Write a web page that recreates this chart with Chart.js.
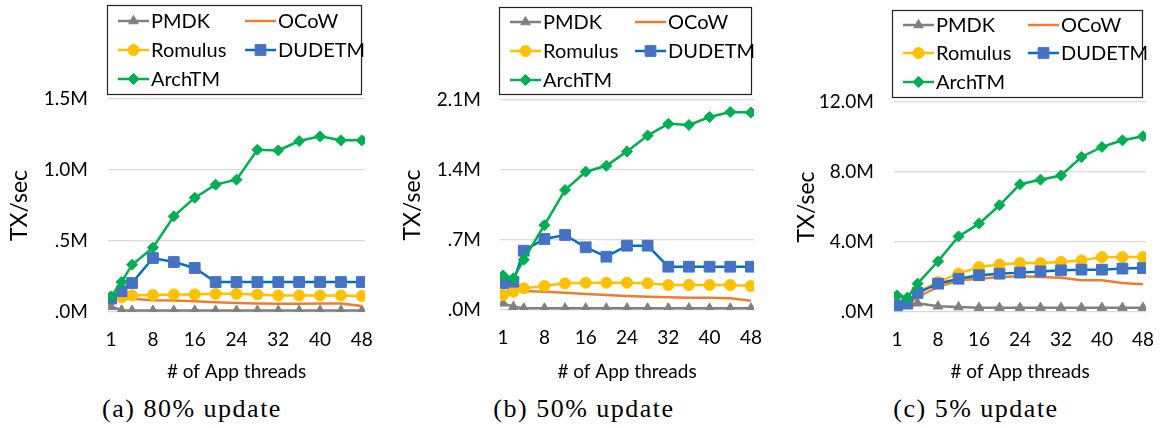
<!DOCTYPE html>
<html><head><meta charset="utf-8">
<script src="https://cdn.jsdelivr.net/npm/chart.js@4.4.1/dist/chart.umd.min.js"></script>
<style>
html,body{margin:0;padding:0;background:#fff;width:1160px;height:428px;overflow:hidden}
.panel{position:absolute;top:0;height:390px;width:380px}
.cap{position:absolute;top:394px;font-family:"Liberation Serif","DejaVu Serif",serif;font-size:26px;letter-spacing:1.5px;color:#000;white-space:nowrap;transform:translateX(-50%);line-height:30px}
</style></head><body>
<div class="panel" style="left:0"><canvas id="ca"></canvas></div>
<div class="panel" style="left:390px"><canvas id="cb"></canvas></div>
<div class="panel" style="left:780px"><canvas id="cc"></canvas></div>
<div class="cap" style="left:192px">(a) 80% update</div>
<div class="cap" style="left:584px">(b) 50% update</div>
<div class="cap" style="left:976px">(c) 5% update</div>
<script>
// x positions of thread counts as drawn (first point sits on the "1" tick)
const threadX = [0, 2, 4, 8, 12, 16, 20, 24, 28, 32, 36, 40, 44, 48];
const xTickValues = [0, 8, 16, 24, 32, 40, 48];
const xTickLabels = ['1', '8', '16', '24', '32', '40', '48'];
const seriesNames = ['PMDK', 'OCoW', 'Romulus', 'DUDETM', 'ArchTM'];

// (a) 80% update, millions TX/sec
const a_PMDK    = [0.037, 0.012, 0.010, 0.010, 0.010, 0.010, 0.010, 0.010, 0.010, 0.010, 0.010, 0.010, 0.010, 0.010];
const a_OCoW    = [0.090, 0.095, 0.094, 0.082, 0.081, 0.075, 0.068, 0.063, 0.059, 0.058, 0.058, 0.059, 0.059, 0.043];
const a_Romulus = [0.100, 0.103, 0.117, 0.120, 0.124, 0.124, 0.128, 0.128, 0.124, 0.117, 0.117, 0.117, 0.117, 0.113];
const a_DUDETM  = [0.094, 0.146, 0.204, 0.380, 0.352, 0.310, 0.211, 0.211, 0.211, 0.211, 0.211, 0.211, 0.211, 0.211];
const a_ArchTM  = [0.110, 0.211, 0.333, 0.453, 0.674, 0.805, 0.897, 0.932, 1.143, 1.138, 1.204, 1.237, 1.209, 1.209];
const a_yTicks = [0, 0.5, 1.0, 1.5];
const a_yLabels = ['.0M', '.5M', '1.0M', '1.5M'];

// (b) 50% update
const b_PMDK    = [0.067, 0.033, 0.017, 0.017, 0.017, 0.017, 0.017, 0.017, 0.017, 0.017, 0.017, 0.017, 0.017, 0.017];
const b_OCoW    = [0.180, 0.200, 0.190, 0.183, 0.173, 0.160, 0.150, 0.140, 0.133, 0.127, 0.123, 0.123, 0.117, 0.093];
const b_Romulus = [0.150, 0.183, 0.217, 0.240, 0.267, 0.273, 0.273, 0.273, 0.267, 0.250, 0.250, 0.250, 0.250, 0.240];
const b_DUDETM  = [0.267, 0.283, 0.593, 0.710, 0.750, 0.627, 0.533, 0.643, 0.643, 0.433, 0.433, 0.433, 0.433, 0.433];
const b_ArchTM  = [0.345, 0.317, 0.503, 0.848, 1.200, 1.383, 1.442, 1.586, 1.745, 1.862, 1.850, 1.930, 1.980, 1.975];
const b_yTicks = [0, 0.7, 1.4, 2.1];
const b_yLabels = ['.0M', '.7M', '1.4M', '2.1M'];

// (c) 5% update
const c_PMDK    = [0.30, 0.45, 0.50, 0.33, 0.28, 0.25, 0.25, 0.25, 0.25, 0.25, 0.25, 0.25, 0.25, 0.25];
const c_OCoW    = [0.30, 0.40, 0.86, 1.43, 1.81, 1.90, 2.00, 2.04, 2.00, 1.96, 1.81, 1.81, 1.66, 1.58];
const c_Romulus = [0.40, 0.57, 1.14, 1.71, 2.19, 2.57, 2.72, 2.80, 2.80, 2.86, 2.95, 3.14, 3.14, 3.14];
const c_DUDETM  = [0.38, 0.48, 1.09, 1.62, 1.90, 2.10, 2.19, 2.25, 2.32, 2.38, 2.42, 2.42, 2.48, 2.51];
const c_ArchTM  = [0.95, 0.82, 1.62, 2.90, 4.32, 5.05, 6.10, 7.30, 7.56, 7.80, 8.86, 9.43, 9.81, 10.04];
const c_yTicks = [0, 4, 8, 12];
const c_yLabels = ['.0M', '4.0M', '8.0M', '12.0M'];

const UI_FONT = 'Lato, "Open Sans", sans-serif';

const styles = [
  {color: '#808080', point: 'triangle', radius: 5.5, order: 5},
  {color: '#ED7D31', point: false, radius: 0, order: 4},
  {color: '#FFC000', point: 'circle', radius: 5.5, order: 3},
  {color: '#0070C0', fill: '#4472C4', point: 'rect', radius: 7.6, order: 2},
  {color: '#00B050', point: 'rectRot', radius: 5.5, order: 1}
];

function markerPath(ctx, style, x, y, r) {
  ctx.beginPath();
  if (style === 'circle') { ctx.arc(x, y, r, 0, Math.PI * 2); }
  else if (style === 'rect') { const s = Math.SQRT1_2 * r; ctx.rect(x - s, y - s, 2 * s, 2 * s); }
  else if (style === 'rectRot') { ctx.moveTo(x - r, y); ctx.lineTo(x, y - r); ctx.lineTo(x + r, y); ctx.lineTo(x, y + r); ctx.closePath(); }
  else if (style === 'triangle') {
    const w = r * Math.sqrt(3) / 2;
    ctx.moveTo(x - w, y + r / 2); ctx.lineTo(x, y - r); ctx.lineTo(x + w, y + r / 2); ctx.closePath();
  }
}

const boxLegend = {
  id: 'boxLegend',
  afterDraw(chart, args, o) {
    const ctx = chart.ctx;
    ctx.save();
    ctx.strokeStyle = '#222';
    ctx.lineWidth = 1.2;
    ctx.strokeRect(o.x + 0.5, o.y + 0.5, o.w, o.h);
    ctx.font = '20px ' + UI_FONT;
    ctx.textBaseline = 'middle';
    ctx.fillStyle = '#000';
    chart.data.datasets.forEach((d, i) => {
      const col = i % 2, row = Math.floor(i / 2);
      const lx = o.x + (col ? o.col2 : o.col1);
      const ly = o.y + o.rows[row];
      ctx.strokeStyle = d.borderColor;
      ctx.lineWidth = d.borderWidth;
      ctx.beginPath(); ctx.moveTo(lx, ly); ctx.lineTo(lx + 31, ly); ctx.stroke();
      if (d.pointStyle && d.pointRadius > 0) {
        markerPath(ctx, d.pointStyle, lx + 15.5, ly, d.pointRadius);
        ctx.fillStyle = d.pointBackgroundColor;
        ctx.fill();
        ctx.lineWidth = 1; ctx.strokeStyle = d.pointBorderColor; ctx.stroke();
      }
      ctx.fillStyle = '#000';
      ctx.fillText(d.label, lx + 33, ly + 1);
    });
    ctx.restore();
  }
};

function makeChart(id, series, yTicks, yLabels, g) {
  const datasets = series.map((vals, i) => {
    const s = styles[i];
    return {
      label: seriesNames[i],
      data: vals.map((v, k) => ({x: threadX[k], y: v})),
      borderColor: s.color,
      backgroundColor: s.fill || s.color,
      borderWidth: 2.5,
      pointStyle: s.point,
      pointRadius: s.radius,
      pointHoverRadius: s.radius,
      pointBackgroundColor: s.fill || s.color,
      pointBorderColor: s.fill || s.color,
      pointBorderWidth: 1,
      order: s.order,
      tension: 0
    };
  });
  return new Chart(document.getElementById(id), {
    type: 'line',
    data: {datasets},
    plugins: [boxLegend],
    options: {
      responsive: true,
      maintainAspectRatio: false,
      animation: false,
      events: [],
      layout: {padding: {left: 0, right: g.padR, top: g.top, bottom: 0}},
      plugins: {
        legend: {display: false},
        tooltip: {enabled: false},
        boxLegend: g.legend
      },
      scales: {
        x: {
          type: 'linear',
          min: -0.6, max: 48.6,
          grid: {display: false, drawTicks: false},
          border: {display: false},
          afterBuildTicks: sc => { sc.ticks = xTickValues.map(v => ({value: v})); },
          afterFit: sc => { sc.height = g.bottomH; sc.paddingLeft = 0; sc.paddingRight = 0; },
          ticks: {
            autoSkip: false, maxRotation: 0, padding: 16,
            color: '#000', font: {family: UI_FONT, size: 19},
            callback: (v, i) => xTickLabels[i]
          },
          title: {display: true, text: '# of App threads', color: '#000',
                  font: {family: UI_FONT, size: 19}, padding: {top: 0, bottom: g.xTitlePad}}
        },
        y: {
          min: yTicks[0], max: yTicks[yTicks.length - 1],
          grid: {color: '#D9D9D9', lineWidth: 1.3, drawTicks: false},
          border: {display: false},
          afterBuildTicks: sc => { sc.ticks = yTicks.map(v => ({value: v})); },
          afterFit: sc => { sc.width = g.leftW; sc.paddingTop = 0; sc.paddingBottom = 0; },
          ticks: {
            padding: g.tickPad, color: '#000', font: {family: UI_FONT, size: 19},
            callback: (v, i) => yLabels[i]
          },
          title: {display: true, text: 'TX/sec', color: '#000',
                  font: {family: UI_FONT, size: 23}, padding: {top: g.titlePad, bottom: 0}}
        }
      }
    }
  });
}

makeChart('ca', [a_PMDK, a_OCoW, a_Romulus, a_DUDETM, a_ArchTM], a_yTicks, a_yLabels,
  {padR: 15, top: 99, leftW: 108, bottomH: 78, xTitlePad: 7, tickPad: 20, titlePad: 6,
   legend: {x: 107, y: 5, w: 254, h: 89, col1: 11, col2: 138, rows: [16, 45, 74]}});
makeChart('cb', [b_PMDK, b_OCoW, b_Romulus, b_DUDETM, b_ArchTM], b_yTicks, b_yLabels,
  {padR: 16, top: 100, leftW: 110, bottomH: 80, xTitlePad: 7, tickPad: 19, titlePad: 9,
   legend: {x: 109, y: 7, w: 252, h: 87, col1: 11, col2: 136, rows: [15, 44, 73]}});
makeChart('cc', [c_PMDK, c_OCoW, c_Romulus, c_DUDETM, c_ArchTM], c_yTicks, c_yLabels,
  {padR: 14, top: 102, leftW: 114, bottomH: 78, xTitlePad: 7, tickPad: 20, titlePad: 13,
   legend: {x: 112, y: 10, w: 250, h: 87, col1: 11, col2: 136, rows: [15, 43, 72]}});
</script>
</body></html>
